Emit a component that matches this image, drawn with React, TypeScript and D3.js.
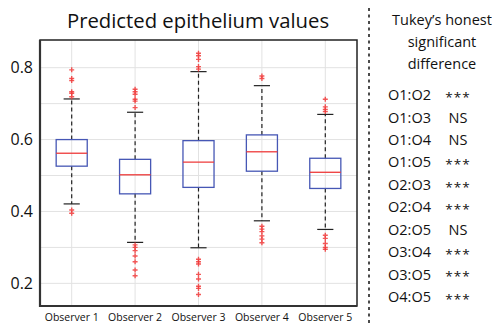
import * as React from "react";
import * as d3 from "d3";

const observers = ["Observer 1", "Observer 2", "Observer 3", "Observer 4", "Observer 5"];
const q1 = [0.526, 0.449, 0.467, 0.512, 0.464];
const medians = [0.562, 0.502, 0.537, 0.566, 0.509];
const q3 = [0.6, 0.545, 0.597, 0.613, 0.548];
const whiskerLow = [0.421, 0.314, 0.299, 0.374, 0.35];
const whiskerHigh = [0.713, 0.676, 0.789, 0.75, 0.67];
const outliers = [
  [0.794, 0.77, 0.764, 0.733, 0.729, 0.719, 0.404, 0.395],
  [0.74, 0.733, 0.726, 0.712, 0.707, 0.689, 0.307, 0.3, 0.291, 0.276, 0.26, 0.237, 0.221],
  [0.84, 0.833, 0.823, 0.803, 0.796, 0.267, 0.26, 0.254, 0.225, 0.212, 0.192, 0.186, 0.169],
  [0.777, 0.77, 0.359, 0.351, 0.344, 0.332, 0.323, 0.313],
  [0.712, 0.691, 0.684, 0.678, 0.334, 0.325, 0.311, 0.3, 0.295],
];
const yTicks = [0.2, 0.4, 0.6, 0.8];
const gridTicks = [0.2, 0.3, 0.4, 0.5, 0.6, 0.7, 0.8];

const pairs = ["O1:O2", "O1:O3", "O1:O4", "O1:O5", "O2:O3", "O2:O4", "O2:O5", "O3:O4", "O3:O5", "O4:O5"];
const signif = ["***", "NS", "NS", "***", "***", "***", "NS", "***", "***", "***"];

const font = "'Open Sans', 'DejaVu Sans', sans-serif";

export default function App() {
  const width = 492;
  const height = 324;
  const plot = { left: 40, top: 40, right: 357, bottom: 306 };

  const x = d3.scalePoint().domain(observers).range([plot.left, plot.right]).padding(0.5);
  const y = d3.scaleLinear().domain([0.137, 0.877]).range([plot.bottom, plot.top]);
  const boxW = x.step() * 0.49;
  const capW = boxW * 0.52;

  const rowY = d3.scaleLinear().domain([0, pairs.length - 1]).range([95, 297]);

  return (
    <svg width={width} height={height} style={{ position: "absolute", left: 0, top: 0, background: "#fff" }}>
      <text x={198} y={27.5} textAnchor="middle" fontFamily={font} fontSize={20.3} fill="#111">
        Predicted epithelium values
      </text>

      {/* grid */}
      {gridTicks.map(t => (
        <line key={"g" + t} x1={plot.left} x2={plot.right} y1={y(t)} y2={y(t)} stroke="#e2e2e2" strokeWidth={1} />
      ))}
      {observers.map(o => (
        <line key={"v" + o} x1={x(o)} x2={x(o)} y1={plot.top} y2={plot.bottom} stroke="#e2e2e2" strokeWidth={1} />
      ))}

      {observers.map((o, i) => {
        const cx = x(o)!;
        return (
          <g key={o}>
            <line x1={cx} x2={cx} y1={y(q3[i])} y2={y(whiskerHigh[i])} stroke="#222" strokeWidth={1.2} strokeDasharray="4,3" />
            <line x1={cx} x2={cx} y1={y(q1[i])} y2={y(whiskerLow[i])} stroke="#222" strokeWidth={1.2} strokeDasharray="4,3" />
            <line x1={cx - capW / 2} x2={cx + capW / 2} y1={y(whiskerHigh[i])} y2={y(whiskerHigh[i])} stroke="#222" strokeWidth={1.2} />
            <line x1={cx - capW / 2} x2={cx + capW / 2} y1={y(whiskerLow[i])} y2={y(whiskerLow[i])} stroke="#222" strokeWidth={1.2} />
            <rect x={cx - boxW / 2} y={y(q3[i])} width={boxW} height={y(q1[i]) - y(q3[i])} fill="none" stroke="#4657b5" strokeWidth={1.3} />
            <line x1={cx - boxW / 2} x2={cx + boxW / 2} y1={y(medians[i])} y2={y(medians[i])} stroke="#ee3a3a" strokeWidth={1.3} />
            {outliers[i].map((v, j) => (
              <path key={j} d={`M${cx - 2.5},${y(v)}h5M${cx},${y(v) - 2.5}v5`} stroke="#f23b3b" strokeWidth={1.4} opacity={0.85} />
            ))}
          </g>
        );
      })}

      {/* frame */}
      <rect x={plot.left} y={plot.top} width={plot.right - plot.left} height={plot.bottom - plot.top} fill="none" stroke="#222" strokeWidth={1.5} />
      <line x1={plot.left} x2={plot.left} y1={plot.top} y2={plot.bottom + 1} stroke="#333" strokeWidth={2.2} />
      <line x1={plot.left} x2={plot.right} y1={plot.bottom} y2={plot.bottom} stroke="#333" strokeWidth={2.2} />

      {yTicks.map(t => (
        <text key={"t" + t} x={33} y={y(t)} dy="0.35em" textAnchor="end" fontFamily={font} fontSize={16} fill="#111">
          {t.toFixed(1)}
        </text>
      ))}
      {observers.map(o => (
        <text key={"l" + o} x={x(o)} y={321} textAnchor="middle" fontFamily={font} fontSize={10.5} fill="#111">
          {o}
        </text>
      ))}

      {/* Tukey panel */}
      <line x1={369} x2={369} y1={8} y2={324} stroke="#111" strokeWidth={1.5} strokeDasharray="3,3.5" />
      {["Tukey\u2019s honest", "significant", "difference"].map((s, i) => (
        <text key={s} x={442} y={25 + i * 22} textAnchor="middle" fontFamily={font} fontSize={14.5} fill="#111">
          {s}
        </text>
      ))}
      {pairs.map((p, i) => (
        <g key={p}>
          <text x={388} y={rowY(i)} dy="0.35em" fontFamily={font} fontSize={14.5} fill="#111">
            {p}
          </text>
          <text x={458} y={rowY(i) + (signif[i] === "***" ? 2 : 0)} dy="0.35em" textAnchor="middle" fontFamily={font} fontSize={signif[i] === "***" ? 13.5 : 14.5} letterSpacing={signif[i] === "***" ? 1 : 0} fill="#111">
            {signif[i]}
          </text>
        </g>
      ))}
    </svg>
  );
}
